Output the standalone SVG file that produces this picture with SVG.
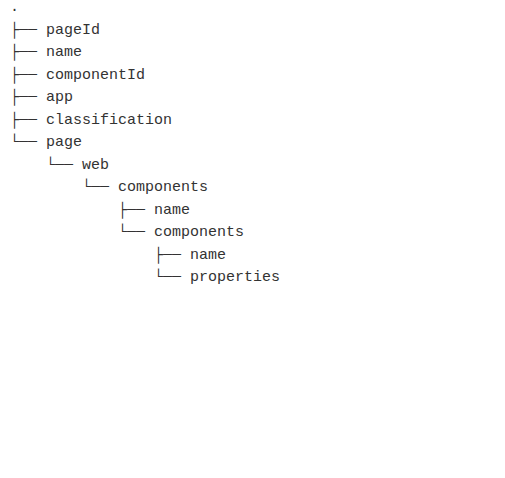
<svg xmlns="http://www.w3.org/2000/svg" width="505" height="478" viewBox="0 0 505 478">
<style>
text{font-family:"Liberation Mono","DejaVu Sans Mono",monospace;font-size:15px;fill:#333;white-space:pre}
</style>
<rect width="505" height="478" fill="#fff"/>
<g id="tree">
<text id="root" x="10" y="11">.</text>
<text id="n1" x="10" y="33.5">├── pageId</text>
<text id="n2" x="10" y="56">├── name</text>
<text id="n3" x="10" y="78.5">├── componentId</text>
<text id="n4" x="10" y="101">├── app</text>
<text id="n5" x="10" y="123.5">├── classification</text>
<text id="n6" x="10" y="146">└── page</text>
<text id="n7" x="46" y="168.5">└── web</text>
<text id="n8" x="82" y="191">└── components</text>
<text id="n9" x="118" y="213.5">├── name</text>
<text id="n10" x="118" y="236">└── components</text>
<text id="n11" x="154" y="258.5">├── name</text>
<text id="n12" x="154" y="281">└── properties</text>
</g>
</svg>
